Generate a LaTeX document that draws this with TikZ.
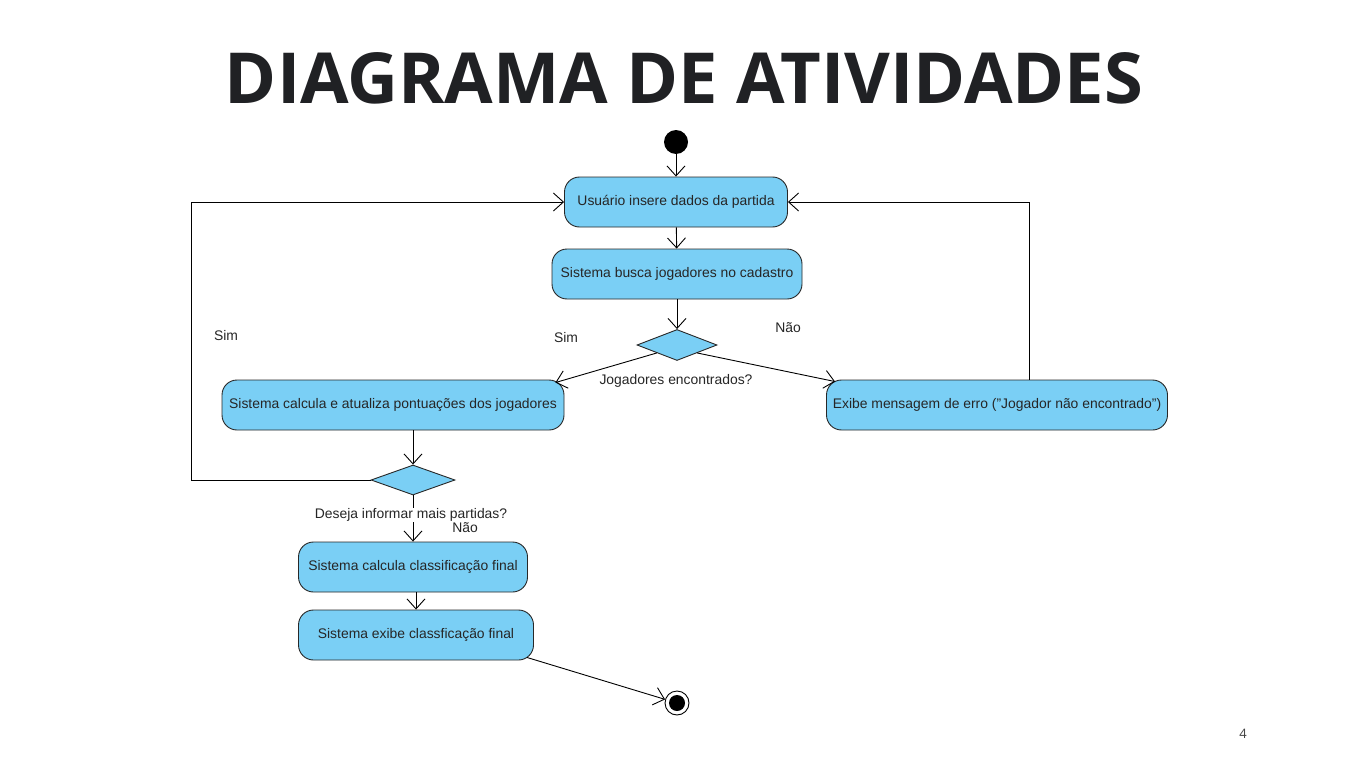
\documentclass[tikz,border=0pt]{standalone}
\usepackage{fontspec}
\setmainfont{Liberation Sans}
\newfontfamily\titlefont{Open Sans}
\usetikzlibrary{shapes.geometric,arrows.meta}
\definecolor{actfill}{RGB}{122,207,245}
\definecolor{actline}{RGB}{40,40,40}
\definecolor{titletext}{RGB}{32,33,36}
\begin{document}
\begin{tikzpicture}[x=1pt,y=-1pt,
		act/.style={draw=actline,fill=actfill,line width=0.9pt,rounded corners=15pt,minimum height=50pt,inner sep=0pt,text=black!85,font=\fontsize{13.9}{15}\selectfont},
		dec/.style={draw=actline,fill=actfill,line width=0.9pt,diamond,inner sep=0pt,minimum width=80pt,minimum height=31pt},
		lbl/.style={font=\fontsize{13.9}{15}\selectfont,text=black!85,inner sep=1pt},
		flow/.style={line width=0.9pt,-{Straight Barb[length=10pt,width=18pt,line width=0.9pt]}},
		line/.style={line width=0.9pt}]
	\useasboundingbox[fill=white] (0,0) rectangle (1366,768);
	\node[font=\titlefont\bfseries\fontsize{70.4}{78}\selectfont,text=titletext] (title) at (684,78) {DIAGRAMA DE ATIVIDADES};
	\node[font=\titlefont\fontsize{13}{15}\selectfont,text=black!75] (page) at (1243,734) {4};
	\node[circle,fill=black,minimum size=24pt,inner sep=0pt] (start) at (676,142) {};
	\node[act,minimum width=223pt] (insere) at (676,202) {Usuário insere dados da partida};
	\node[act,minimum width=250pt] (busca) at (677,274) {Sistema busca jogadores no cadastro};
	\node[dec] (achou) at (677,345) {};
	\node[act,minimum width=342pt] (atualiza) at (393,405) {Sistema calcula e atualiza pontuações dos jogadores};
	\node[act,minimum width=341pt] (erro) at (997,405) {Exibe mensagem de erro (\symbol{34}Jogador não encontrado\symbol{34})};
	\node[dec,minimum width=84pt,minimum height=30pt] (mais) at (413,480) {};
	\node[act,minimum width=229pt] (calcula) at (413,567) {Sistema calcula classificação final};
	\node[act,minimum width=235pt] (exibe) at (416,635) {Sistema exibe classficação final};
	\node[circle,draw=black,line width=0.9pt,minimum size=24pt,inner sep=0pt] (fim) at (677,703) {};
	\fill (fim) circle (8pt);
	\coordinate (cantoE) at (191,480);
	\coordinate (cantoE2) at (191,202);
	\coordinate (cantoD) at (1029,202);
	\draw[flow] (start) -- (insere);
	\draw[flow] (insere) -- (busca);
	\draw[flow] (busca) -- (achou);
	\draw[flow] (achou.south west) -- ([xshift=-9pt,yshift=-3pt]atualiza.north east);
	\draw[flow] (achou.south east) -- ([xshift=9pt,yshift=-2pt]erro.north west);
	\draw[flow] (atualiza.south -| mais) -- (mais);
	\draw[flow] (mais.west) -- (cantoE) -- (cantoE2) -- (insere.west);
	\draw[flow] (erro.north -| cantoD) -- (cantoD) -- (insere.east);
	\draw[flow] (mais) -- (calcula);
	\draw[flow] (calcula.south -| exibe) -- (exibe);
	\draw[flow] ([xshift=-7pt,yshift=3pt]exibe.south east) -- (fim);
	\node[lbl] (simE) at (226,336) {Sim};
	\node[lbl] (simD) at (566,338) {Sim};
	\node[lbl] (naoD) at (788,328) {Não};
	\node[lbl] (q1) at (676,381) {Jogadores encontrados?};
	\node[lbl,fill=white] (q2) at (411,515) {Deseja informar mais partidas?};
	\node[lbl] (naoB) at (465,528) {Não};
\end{tikzpicture}
\end{document}
